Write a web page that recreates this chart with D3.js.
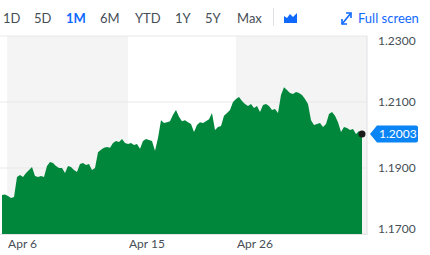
<!DOCTYPE html>
<html>
  <head>
    <meta charset="utf-8">
    <script src="https://d3js.org/d3.v7.min.js"></script>
    <style>
      body { margin: 0; background: #fff; font-family: Lato, sans-serif; }
      .btn { fill: #464e56; font-size: 13px; }
      .btn.on { fill: #0f69ff; font-weight: bold; }
      .tick-label { fill: #464e56; font-size: 12px; }
    </style>
  </head>
  <body>
    <div id="chart"></div>
    <script>
      // EUR/USD, one month
      const values = [
        1.1818, 1.1820, 1.1815, 1.1809, 1.1812, 1.1873, 1.1879, 1.1873, 1.1885, 1.1894,
        1.1903, 1.1876, 1.1873, 1.1876, 1.1873, 1.1906, 1.1918, 1.1915, 1.1906, 1.1900,
        1.1900, 1.1885, 1.1906, 1.1903, 1.1894, 1.1888, 1.1912, 1.1915, 1.1909, 1.1912,
        1.1894, 1.1900, 1.1948, 1.1955, 1.1961, 1.1964, 1.1961, 1.1976, 1.1982, 1.1979,
        1.1988, 1.1976, 1.1973, 1.1976, 1.1970, 1.1973, 1.1958, 1.1982, 1.1988, 1.1985,
        1.1982, 1.1952, 1.1991, 1.2045, 1.2036, 1.2039, 1.2042, 1.2061, 1.2076, 1.2055,
        1.2042, 1.2045, 1.2039, 1.2033, 1.2009, 1.2030, 1.2039, 1.2036, 1.2042, 1.2048,
        1.2067, 1.2015, 1.2024, 1.2027, 1.2058, 1.2067, 1.2076, 1.2100, 1.2109, 1.2115,
        1.2103, 1.2094, 1.2088, 1.2094, 1.2082, 1.2088, 1.2070, 1.2091, 1.2094, 1.2088,
        1.2076, 1.2079, 1.2067, 1.2121, 1.2145, 1.2136, 1.2127, 1.2124, 1.2130, 1.2127,
        1.2121, 1.2109, 1.2094, 1.2045, 1.2030, 1.2033, 1.2036, 1.2024, 1.2033, 1.2064,
        1.2070, 1.2058, 1.2039, 1.2009, 1.2024, 1.2021, 1.2015, 1.2018, 1.2003, 1.2012,
        1.2003
      ];
      const dateLabels = ["Apr 6", "Apr 15", "Apr 26"];
      const datePos = [1.7, 42, 78]; // position in the series where each date starts
      const yTicks = [1.17, 1.19, 1.21, 1.23];
      const ranges = ["1D", "5D", "1M", "6M", "YTD", "1Y", "5Y", "Max"];
      const activeRange = "1M";
      const lastPrice = 1.2003;

      const W = 430, H = 255;
      const plotLeft = 2, plotRight = 362, edge = 367;

      const svg = d3.select("#chart").append("svg")
        .attr("width", W).attr("height", H);

      const x = d3.scaleLinear().domain([0, values.length - 1]).range([plotLeft, plotRight]);
      const y = d3.scaleLinear().domain([1.17, 1.23]).range([234, 36]);

      // alternating date bands
      const bandEdges = datePos.map(x).concat([edge]);
      svg.selectAll(".band")
        .data([[bandEdges[0], bandEdges[1]], [bandEdges[2], bandEdges[3]]])
        .enter().append("rect")
        .attr("x", d => d[0]).attr("width", d => d[1] - d[0])
        .attr("y", y(1.23)).attr("height", y(1.17) - y(1.23))
        .attr("fill", "#f4f4f4");

      // horizontal grid
      svg.selectAll(".grid")
        .data(yTicks)
        .enter().append("line")
        .attr("x1", 0).attr("x2", edge)
        .attr("y1", d => y(d)).attr("y2", d => y(d))
        .attr("stroke", "#e8e8e8");

      // area
      const area = d3.area()
        .x((d, i) => x(i))
        .y0(y(1.17))
        .y1(d => y(d));
      svg.append("path")
        .datum(values)
        .attr("d", area)
        .attr("fill", "#00873c");

      // right edge line and baseline
      svg.append("line")
        .attr("x1", edge).attr("x2", edge).attr("y1", y(1.23)).attr("y2", y(1.17) + 1)
        .attr("stroke", "#e0e0e6");
      svg.append("line")
        .attr("x1", 0).attr("x2", edge).attr("y1", y(1.17) + 0.5).attr("y2", y(1.17) + 0.5)
        .attr("stroke", "#e3e3e8");

      // y labels (outer ones nudged inside)
      svg.selectAll(".ylab")
        .data(yTicks)
        .enter().append("text")
        .attr("class", "tick-label")
        .attr("x", 378)
        .attr("y", d => Math.min(Math.max(y(d), 41), 229))
        .attr("dy", "0.35em")
        .text(d => d3.format(".4f")(d));

      // x labels
      svg.selectAll(".xlab")
        .data(dateLabels)
        .enter().append("text")
        .attr("class", "tick-label")
        .attr("x", (d, i) => x(datePos[i]) + 1)
        .attr("y", 244)
        .attr("dy", "0.35em")
        .text(d => d);

      // last price marker and tag
      const ly = y(lastPrice);
      svg.append("circle")
        .attr("cx", x(values.length - 1)).attr("cy", ly).attr("r", 3.5)
        .attr("fill", "#1b1b1b");
      svg.append("path")
        .attr("d", `M370,${ly} L377,${ly - 8.5} H416 Q418,${ly - 8.5} 418,${ly - 6.5} V${ly + 6.5} Q418,${ly + 8.5} 416,${ly + 8.5} H377 Z`)
        .attr("fill", "#0b84f5");
      svg.append("text")
        .attr("x", 379).attr("y", ly).attr("dy", "0.35em")
        .attr("fill", "#fff").attr("font-size", "12px")
        .text(d3.format(".4f")(lastPrice));

      // toolbar
      const btnX = [3, 34, 66, 100, 135, 175, 205, 237];
      svg.selectAll(".btn")
        .data(ranges)
        .enter().append("text")
        .attr("class", d => d === activeRange ? "btn on" : "btn")
        .attr("x", (d, i) => btnX[i])
        .attr("y", 18).attr("dy", "0.35em")
        .text(d => d);
      svg.append("line")
        .attr("x1", 273.5).attr("x2", 273.5).attr("y1", 8).attr("y2", 26)
        .attr("stroke", "#dde0e4");
      // area-chart icon
      svg.append("path")
        .attr("d", "M284,23 V16 L287,18 L290,14 L293,17 L297,13 V23 Z")
        .attr("fill", "#0f69ff");
      // full screen icon
      const fs = svg.append("g").attr("stroke", "#0f69ff").attr("stroke-width", 1.6).attr("fill", "none");
      fs.append("line").attr("x1", 342).attr("y1", 24).attr("x2", 351).attr("y2", 13);
      fs.append("path").attr("d", "M342,19 V24 H347");
      fs.append("path").attr("d", "M346,13 H351 V18");
      svg.append("text")
        .attr("x", 358).attr("y", 18).attr("dy", "0.35em")
        .attr("fill", "#0f69ff").attr("font-size", "13px")
        .text("Full screen");
    </script>
  </body>
</html>
